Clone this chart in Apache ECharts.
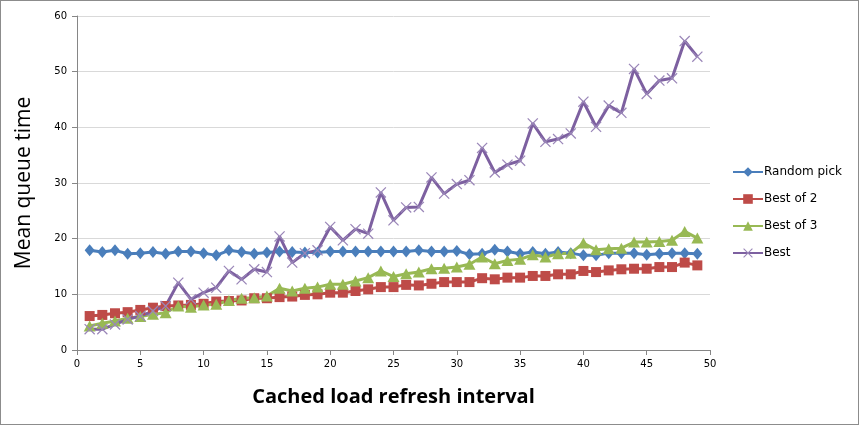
<!DOCTYPE html>
<html>
<head>
<meta charset="utf-8">
<script src="https://cdn.jsdelivr.net/npm/echarts@6/dist/echarts.min.js"></script>
<style>
  html, body { margin: 0; padding: 0; background: #fff; }
  #main { width: 857px; height: 423px; border: 1px solid #8c8c8c; }
</style>
</head>
<body>
<div id="main"></div>
<script>
var intervals = [];
for (var i = 1; i <= 49; i++) intervals.push(i);

var randomPick = [17.9, 17.6, 17.9, 17.3, 17.4, 17.6, 17.3, 17.7, 17.7, 17.4,
	17.0, 17.9, 17.6, 17.3, 17.5, 17.7, 17.6, 17.5, 17.5, 17.7,
	17.7, 17.7, 17.7, 17.7, 17.7, 17.7, 17.9, 17.7, 17.7, 17.8,
	17.2, 17.3, 18.0, 17.7, 17.3, 17.6, 17.3, 17.6, 17.4, 17.0,
	17.0, 17.4, 17.4, 17.4, 17.1, 17.3, 17.4, 17.4, 17.3];

var bestOf2 = [6.1, 6.3, 6.6, 6.8, 7.2, 7.6, 7.9, 8.0, 8.1, 8.3,
	8.7, 8.8, 8.9, 9.3, 9.3, 9.5, 9.6, 9.9, 10.0, 10.3,
	10.3, 10.6, 10.9, 11.3, 11.3, 11.7, 11.6, 11.9, 12.2, 12.2,
	12.2, 12.9, 12.7, 13.0, 13.0, 13.3, 13.3, 13.6, 13.6, 14.2,
	14.0, 14.3, 14.5, 14.6, 14.6, 14.9, 14.9, 15.7, 15.2];

var bestOf3 = [4.3, 4.8, 5.2, 5.7, 6.0, 6.4, 6.7, 7.9, 7.7, 8.1,
	8.2, 8.9, 9.3, 9.4, 9.7, 11.1, 10.6, 11.1, 11.3, 11.8,
	11.8, 12.4, 13.0, 14.2, 13.2, 13.7, 14.0, 14.6, 14.7, 14.9,
	15.4, 16.7, 15.5, 16.1, 16.3, 17.1, 16.7, 17.3, 17.4, 19.2,
	18.0, 18.2, 18.3, 19.4, 19.4, 19.5, 19.7, 21.3, 20.1];

var best = [3.75, 3.75, 4.6, 5.5, 6.1, 7.0, 7.9, 12.1, 9.1, 10.3,
	11.2, 14.2, 12.7, 14.5, 14.0, 20.4, 15.7, 17.4, 17.9, 22.1,
	19.7, 21.7, 20.9, 28.3, 23.3, 25.6, 25.7, 31.0, 28.1, 29.8,
	30.5, 36.3, 31.9, 33.3, 34.0, 40.7, 37.4, 37.9, 38.9, 44.6,
	40.1, 43.9, 42.6, 50.5, 46.0, 48.4, 48.8, 55.5, 52.7];

function pairs(values) {
	return intervals.map(function (x, i) {
		return [x, values[i]];
	});
}

// thin "x" marker like the spreadsheet one
var crossSymbol = 'path://M0,0.8L0.8,0L10,9.2L9.2,10Z M9.2,0L10,0.8L0.8,10L0,9.2Z';

var myChart = echarts.init(document.getElementById('main'));

var option = {
	animation: false,
	grid: {
		left: 76,
		right: 148,
		top: 15,
		bottom: 74
	},
	legend: {
		orient: 'vertical',
		left: 726,
		top: 160,
		itemWidth: 30,
		itemHeight: 12,
		itemGap: 15,
		textStyle: {
			fontFamily: 'DejaVu Sans',
			fontSize: 12,
			color: '#000',
			padding: [0, 0, 0, -4]
		},
		data: ['Random pick', 'Best of 2', 'Best of 3', 'Best']
	},
	xAxis: {
		type: 'value',
		min: 0,
		max: 50,
		interval: 5,
		name: 'Cached load refresh interval',
		nameLocation: 'middle',
		nameGap: 37,
		nameTextStyle: {
			fontFamily: 'Open Sans',
			fontWeight: 'bold',
			fontSize: 20,
			color: '#000'
		},
		axisLine: { lineStyle: { color: '#868686' } },
		axisTick: { show: true, length: 5, lineStyle: { color: '#868686' } },
		axisLabel: {
			margin: 9,
			fontFamily: 'DejaVu Sans',
			fontSize: 10,
			color: '#000'
		},
		splitLine: { show: false }
	},
	yAxis: {
		type: 'value',
		min: 0,
		max: 60,
		interval: 10,
		name: 'Mean queue time',
		nameLocation: 'middle',
		nameGap: 42,
		nameTextStyle: {
			fontFamily: 'Open Sans',
			fontSize: 21,
			color: '#000'
		},
		axisLine: { show: true, lineStyle: { color: '#868686' } },
		axisTick: { show: true, length: 5, lineStyle: { color: '#868686' } },
		axisLabel: {
			margin: 10,
			fontFamily: 'DejaVu Sans',
			fontSize: 10,
			color: '#000'
		},
		splitLine: { lineStyle: { color: '#d9d9d9' } }
	},
	series: [{
		name: 'Random pick',
		type: 'line',
		symbol: 'diamond',
		symbolSize: [10, 12],
		itemStyle: { color: '#4a7ebb' },
		lineStyle: { width: 3, color: '#4a7ebb' },
		data: pairs(randomPick)
	}, {
		name: 'Best of 2',
		type: 'line',
		symbol: 'rect',
		symbolSize: 10,
		itemStyle: { color: '#be4b48' },
		lineStyle: { width: 3, color: '#be4b48' },
		data: pairs(bestOf2)
	}, {
		name: 'Best of 3',
		type: 'line',
		symbol: 'triangle',
		symbolSize: [12, 11],
		itemStyle: { color: '#98b954' },
		lineStyle: { width: 3, color: '#98b954' },
		data: pairs(bestOf3)
	}, {
		name: 'Best',
		type: 'line',
		symbol: crossSymbol,
		symbolSize: 11,
		itemStyle: { color: '#9a86b8' },
		lineStyle: { width: 3, color: '#7d60a0' },
		data: pairs(best)
	}]
};

myChart.setOption(option);
</script>
</body>
</html>
